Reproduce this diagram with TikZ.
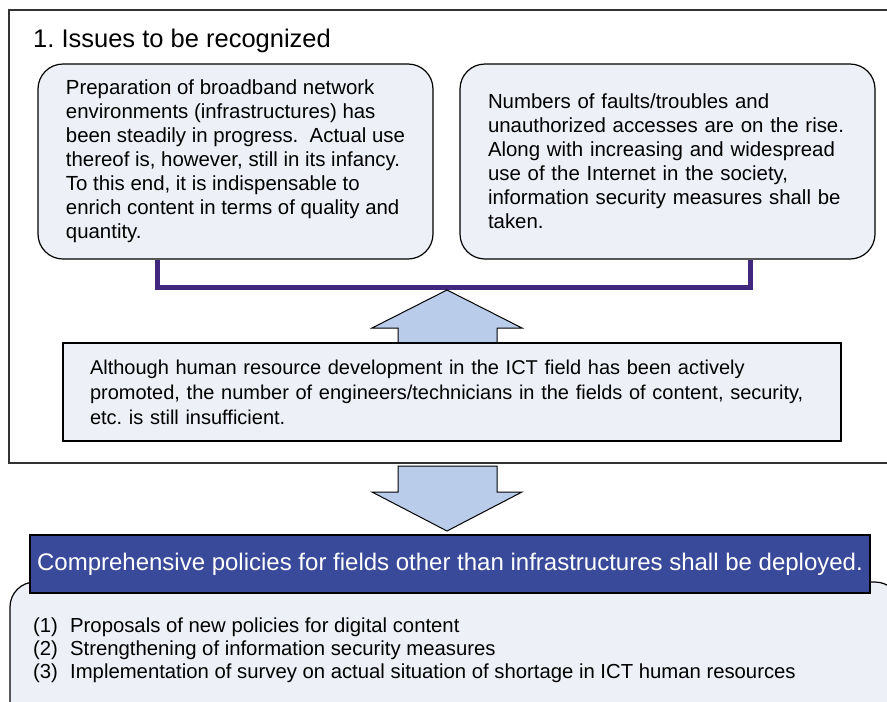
\documentclass[tikz,border=0pt]{standalone}
\usepackage{fontspec}
\setmainfont{Liberation Sans}
\usetikzlibrary{positioning}
\frenchspacing

\definecolor{boxfill}{HTML}{EDF0F6}
\definecolor{arrowfill}{HTML}{B9CDEA}
\definecolor{bracketcol}{HTML}{41287F}
\definecolor{bannerfill}{HTML}{3A4A9A}

\begin{document}
\begin{tikzpicture}[
  x=1pt, y=-1pt,
  issue/.style={draw, line width=1.2pt, fill=boxfill, rounded corners=25pt,
    minimum width=395pt, minimum height=195pt, align=left,
    font=\fontsize{20.4}{24}\selectfont},
  fat/.style={draw, line width=1pt, fill=arrowfill},
  bracket/.style={draw=bracketcol, line width=5pt}
]
\useasboundingbox (0,0) rectangle (887,702);
\clip (0,0) rectangle (887,702);

% frame of part 1
\draw[line width=1.3pt, draw=black!80] (9,10) rectangle (900,463);
\node[anchor=base west, inner sep=0pt, font=\fontsize{25.5}{30}\selectfont] (title) at (33,47) {1. Issues to be recognized};

\node[issue] (broadband) at (235.5,161.5) {Preparation of broadband network\\
environments (infrastructures) has\\
been steadily in progress.\ \ Actual use\\
thereof is, however, still in its infancy.\\
To this end, it is indispensable to\\
enrich content in terms of quality and\\
quantity.};
\node[issue, minimum width=415pt, inner xsep=28pt, text width=359pt] (security) at (667.5,161.5) {Numbers of faults/troubles and\\
unauthorized accesses are on the rise.\\
Along with increasing and widespread\\
use of the Internet in the society,\\
information security measures shall be\\
taken.};

\coordinate (join) at (447,287);
\draw[bracket] ([xshift=-78.5pt]broadband.south) |- (join) -| ([xshift=82.5pt]security.south);

% arrow up
\path[fat] (398,344) -- (398,328) -- (372,328) -- (447,290) -- (522,328) -- (497,328) -- (497,344);

\node[draw, line width=1.2pt, fill=boxfill, minimum width=778pt, minimum height=98pt,
  text width=724pt, align=left, font=\fontsize{20}{25}\selectfont] (people) at (452,392)
  {Although human resource development in the ICT field has been actively\\
promoted, the number of engineers/technicians in the fields of content, security,\\
etc. is still insufficient.};

% arrow down
\path[fat] (398,466) -- (398,492) -- (372,492) -- (447,531) -- (522,492) -- (497,492) -- (497,466) -- cycle;

% part 2
\draw[line width=1.2pt, fill=boxfill, rounded corners=25pt] (10,730) rectangle (900,582);
\node[draw, line width=1.2pt, fill=bannerfill, text=white, minimum width=840pt, minimum height=58pt,
  font=\fontsize{24}{28}\selectfont] (policy) at (450,564)
  {Comprehensive policies for fields other than infrastructures shall be deployed.};
\node[anchor=west, align=left, inner sep=0pt, font=\fontsize{20.3}{23}\selectfont] (todo) at (33,650)
  {\makebox[37pt][l]{(1)}Proposals of new policies for digital content\\
\makebox[37pt][l]{(2)}Strengthening of information security measures\\
\makebox[37pt][l]{(3)}Implementation of survey on actual situation of shortage in ICT human resources};
\end{tikzpicture}
\end{document}
